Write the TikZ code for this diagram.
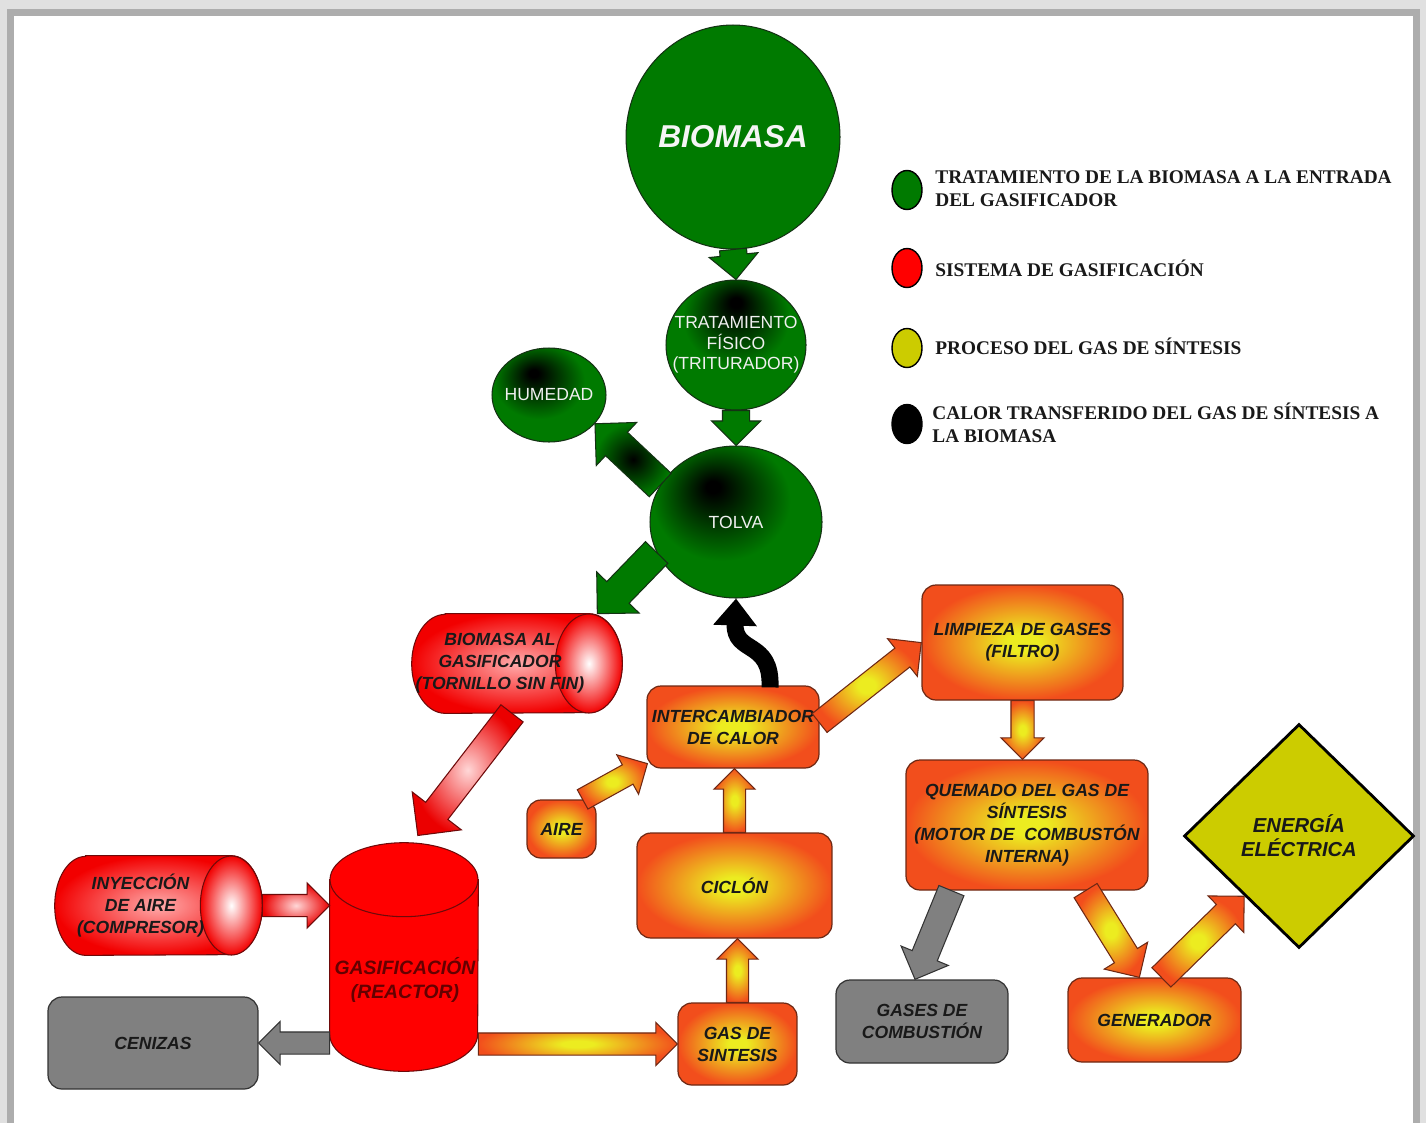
\documentclass[tikz,border=0pt]{standalone}
\usepackage{fontspec}
\setmainfont{Liberation Serif}
\newfontfamily\arialf{Liberation Sans}
\usetikzlibrary{shapes.geometric,shapes.arrows,calc,arrows.meta}

\definecolor{grn}{RGB}{0,122,0}
\definecolor{dkgrn}{RGB}{20,50,20}
\definecolor{org}{RGB}{242,78,28}
\definecolor{ylw}{RGB}{236,236,32}
\definecolor{obrd}{RGB}{110,40,20}
\definecolor{pinkc}{RGB}{255,215,215}
\definecolor{rbrd}{RGB}{110,10,10}
\definecolor{gry}{RGB}{128,128,128}
\definecolor{ecolor}{RGB}{204,204,0}
\definecolor{txtc}{RGB}{25,25,25}
\definecolor{reactxt}{RGB}{100,0,0}

\pgfdeclareradialshading{greenA}{\pgfpoint{-7bp}{12bp}}{color(0bp)=(black); color(2bp)=(black); color(20bp)=(grn); color(50bp)=(grn)}
\pgfdeclareradialshading{greenB}{\pgfpoint{0bp}{17bp}}{color(0bp)=(black); color(2bp)=(black); color(19bp)=(grn); color(50bp)=(grn)}
\pgfdeclareradialshading{orangeball}{\pgfpoint{0bp}{0bp}}{color(0bp)=(ylw); color(4bp)=(ylw); color(25bp)=(org); color(50bp)=(org)}

\newcommand\dgboxfont{\arialf\bfseries\itshape\fontsize{10}{12.5}\selectfont}
\newcommand\dggreenfont{\arialf\fontsize{10}{11.6}\selectfont}
\newcommand\dglegfont{\bfseries\fontsize{11}{13}\selectfont}

\tikzset{
 obox/.style={rectangle, rounded corners=0.28cm, draw=obrd, line width=0.7pt, shading=orangeball, font=\dgboxfont, text=txtc, align=center, inner sep=0pt},
 graybox/.style={rectangle, rounded corners=0.28cm, draw=black!80, line width=0.7pt, fill=gry, font=\dgboxfont, text=txtc, align=center, inner sep=0pt},
 gell/.style={ellipse, draw=dkgrn, line width=0.6pt, shading=greenA, inner sep=0pt},
 gtxt/.style={font=\dggreenfont, text=white!94!black, align=center, inner sep=0pt},
 btxt/.style={font=\dgboxfont, text=txtc, align=center, inner sep=0pt},
 oarrow/.style={draw=obrd, line width=0.6pt, shading=orangeball},
 garrow/.style={draw=dkgrn, line width=0.6pt, fill=grn},
 darrow/.style={draw=dkgrn, line width=0.6pt, shading=radial, inner color=black, outer color=grn},
 parrow/.style={draw=rbrd, line width=0.6pt, shading=radial, inner color=pinkc, outer color=red!92!black},
 grarrow/.style={draw=black!80, line width=0.6pt, fill=gry},
 cylbody/.style={draw=rbrd, line width=0.6pt, shading=radial, inner color=pinkc!80!red, outer color=red!95!black},
 cylcap/.style={draw=rbrd, line width=0.6pt, shading=radial, inner color=white, outer color=red!95!black},
 legdot/.style={ellipse, draw=black, line width=0.8pt, minimum width=0.6cm, minimum height=0.78cm, inner sep=0pt},
 legtxt/.style={anchor=west, align=left, font=\dglegfont, text=black!90, inner sep=0pt},
}

% #1 name, #2 style, #3 from, #4 to, #5 shaft width, #6 head width
\newcommand\barrow[6]{%
  \path let \p1=(#3), \p2=(#4), \n1={atan2(\y2-\y1,\x2-\x1)}, \n2={veclen(\x2-\x1,\y2-\y1)} in
    node[single arrow, #2, inner xsep=0pt, inner ysep={(#5)/2}, outer sep=0pt, minimum height=\n2, minimum width=#6,
      single arrow head extend={(#6-#5)/2}, single arrow tip angle=90, rotate=\n1, anchor=tail] (#1) at (\p1) {};}

\begin{document}
\begin{tikzpicture}[x=0.02cm,y=-0.02cm]
% frame
\fill[black!12] (0,0) rectangle (1426,1123);
\fill[black!32] (7,9) rectangle (1420,1123);
\fill[white] (14,16) rectangle (1413,1123);
\useasboundingbox (0,0) rectangle (1426,1123);

% green part
\node[ellipse, draw=dkgrn, line width=0.6pt, fill=grn, minimum width=4.28cm, minimum height=4.48cm, inner sep=0pt] (biomasa) at (733,137) {};
\node[font=\arialf\bfseries\itshape\fontsize{18}{20}\selectfont, text=white!96!black, inner sep=0pt] (biomasatxt) at (biomasa) {BIOMASA};
\node[gell, shading=greenB, minimum width=2.8cm, minimum height=2.6cm] (trat) at (736,345) {};
\node[gtxt] (trattxt) at (trat) {TRATAMIENTO\\FÍSICO\\(TRITURADOR)};
\node[gell, minimum width=3.44cm, minimum height=3.04cm] (tolva) at (736,522) {};
\node[gtxt] (tolvatxt) at (tolva) {TOLVA};
\node[gell, minimum width=2.28cm, minimum height=1.88cm] (humedad) at (549,395) {};
\node[gtxt] (humedadtxt) at (humedad) {HUMEDAD};

% horizontal cylinder: biomasa al gasificador
\node[inner sep=0pt, minimum width=4.2cm, minimum height=1.98cm] (bioal) at (517,663.5) {};
\path[cylbody] ($(bioal.north west)+(33.5,0)$) -- ($(bioal.north east)+(-33.5,0)$)
  arc[start angle=90, end angle=-90, x radius=0.67cm, y radius=0.99cm]
  -- ($(bioal.south west)+(33.5,0)$)
  arc[start angle=270, end angle=90, x radius=0.67cm, y radius=0.99cm] -- cycle;
\path[cylcap] ($(bioal.east)+(-33.5,0)$) ellipse[x radius=0.67cm, y radius=0.99cm];
\node[btxt] (bioaltxt) at ($(bioal)+(-17,0)$) {BIOMASA AL\\GASIFICADOR\\(TORNILLO SIN FIN)};

% horizontal cylinder: inyeccion de aire
\node[inner sep=0pt, minimum width=4.14cm, minimum height=1.98cm] (inyec) at (158.5,905.5) {};
\path[cylbody] ($(inyec.north west)+(31,0)$) -- ($(inyec.north east)+(-31,0)$)
  arc[start angle=90, end angle=-90, x radius=0.62cm, y radius=0.99cm]
  -- ($(inyec.south west)+(31,0)$)
  arc[start angle=270, end angle=90, x radius=0.62cm, y radius=0.99cm] -- cycle;
\path[cylcap] ($(inyec.east)+(-31,0)$) ellipse[x radius=0.62cm, y radius=0.99cm];
\node[btxt] (inyectxt) at ($(inyec)+(-18,0)$) {INYECCIÓN\\DE AIRE\\(COMPRESOR)};

% reactor (vertical cylinder)
\node[inner sep=0pt, minimum width=2.96cm, minimum height=4.56cm] (reactor) at (404,957) {};
\path[draw=rbrd, line width=0.6pt, fill=red] ($(reactor.north west)+(0,37)$) -- ($(reactor.south west)+(0,-37)$)
  arc[start angle=180, end angle=360, x radius=1.48cm, y radius=0.74cm]
  -- ($(reactor.north east)+(0,37)$) -- cycle;
\path[draw=rbrd, line width=0.6pt, fill=red] ($(reactor.north)+(0,37)$) ellipse[x radius=1.48cm, y radius=0.74cm];
\node[btxt, text=reactxt, font=\arialf\bfseries\itshape\fontsize{11}{13.6}\selectfont] (reactortxt) at ($(reactor)+(1,23)$) {GASIFICACIÓN\\(REACTOR)};

% boxes
\node[graybox, minimum width=4.2cm, minimum height=1.84cm] (cenizas) at (153,1043) {CENIZAS};
\node[obox, minimum width=2.38cm, minimum height=1.64cm] (gas) at (737.5,1044) {GAS DE\\SINTESIS};
\node[obox, minimum width=3.9cm, minimum height=2.1cm] (ciclon) at (734.5,885.5) {CICLÓN};
\node[obox, minimum width=3.44cm, minimum height=1.64cm] (inter) at (733,727) {INTERCAMBIADOR\\DE CALOR};
\node[obox, minimum width=1.38cm, minimum height=1.16cm] (aire) at (561.5,829) {AIRE};
\node[obox, minimum width=4.02cm, minimum height=2.3cm] (limp) at (1022.5,642.5) {LIMPIEZA DE GASES\\(FILTRO)};
\node[obox, minimum width=4.84cm, minimum height=2.6cm] (quem) at (1027,825) {QUEMADO DEL GAS DE\\SÍNTESIS\\(MOTOR DE\ \ COMBUSTÓN\\INTERNA)};
\node[graybox, minimum width=3.44cm, minimum height=1.66cm] (gases) at (922,1021.5) {GASES DE\\COMBUSTIÓN};
\node[obox, minimum width=3.46cm, minimum height=1.68cm] (gen) at (1154.5,1020) {GENERADOR};
\node[diamond, draw=black, line width=1.6pt, fill=ecolor, minimum width=4.6cm, minimum height=4.48cm, inner sep=0pt,
  font=\arialf\bfseries\itshape\fontsize{11.5}{13.6}\selectfont, text=txtc, align=center] (energia) at (1299,836) {ENERGÍA\\ELÉCTRICA};

% arrows
\barrow{a1}{garrow}{biomasa.south}{trat.north}{0.52cm}{0.96cm}
\barrow{a2}{garrow}{trat.south}{tolva.north}{0.52cm}{0.96cm}
\barrow{a3}{darrow}{tolva.154}{humedad.-32}{0.62cm}{1.16cm}
\barrow{a4}{garrow}{tolva.201}{$(bioal.north east)+(-25,0)$}{0.6cm}{1.16cm}
\barrow{a5}{parrow}{$(bioal.south)+(-5,0)$}{$(reactor.north west)+(88,-7)$}{0.54cm}{1.22cm}
\barrow{a6}{parrow}{inyec.east}{reactor.west |- inyec.east}{0.42cm}{0.88cm}
\barrow{a7}{grarrow}{reactor.west |- cenizas.east}{cenizas.east}{0.42cm}{0.84cm}
\barrow{a8}{oarrow}{reactor.east |- gas.west}{gas.west}{0.42cm}{0.84cm}
\barrow{a9}{oarrow}{gas.north}{gas.north |- ciclon.south}{0.42cm}{0.8cm}
\barrow{a10}{oarrow}{ciclon.north}{ciclon.north |- inter.south}{0.42cm}{0.8cm}
\barrow{a11}{oarrow}{$(aire.north east)+(-14,0)$}{$(inter.south west)+(1,-5)$}{0.42cm}{0.88cm}
\barrow{a12}{oarrow}{$(inter.east)+(0,-4)$}{limp.west}{0.46cm}{0.94cm}
\barrow{a13}{oarrow}{limp.south}{limp.south |- quem.north}{0.44cm}{0.84cm}
\barrow{a14}{grarrow}{$(quem.south west)+(46,0)$}{$(gases.north)+(-7,0)$}{0.52cm}{1.0cm}
\barrow{a15}{oarrow}{$(quem.south east)+(-63,0)$}{$(gen.north west)+(72,0)$}{0.52cm}{1.0cm}
\barrow{a16}{oarrow}{$(gen.north west)+(94,0)$}{$(energia.west)!0.53!(energia.south)$}{0.52cm}{1.0cm}

% heat transfer (wavy black arrow)
\draw[line width=0.34cm, line cap=butt, -{Triangle[length=0.54cm, width=0.84cm]}]
  ($(inter.north)+(37,2)$) .. controls ($(inter.north)+(39,-46)$) and ($(tolva.south)+(-2,56)$) .. (tolva.south);

% legend
\node[legdot, fill=grn] (l1) at (907,190) {};
\node[legdot, fill=red] (l2) at (907,268) {};
\node[legdot, fill=ecolor] (l3) at (907,348) {};
\node[legdot, fill=black] (l4) at (907,424) {};
\node[legtxt] (t1) at (935,188.5) {TRATAMIENTO DE LA BIOMASA A LA ENTRADA\\DEL GASIFICADOR};
\node[legtxt] (t2) at (935,268) {SISTEMA DE GASIFICACIÓN};
\node[legtxt] (t3) at (935,346) {PROCESO DEL GAS DE SÍNTESIS};
\node[legtxt] (t4) at (932,422.5) {CALOR TRANSFERIDO DEL GAS DE SÍNTESIS A\\LA BIOMASA};
\end{tikzpicture}
\end{document}
